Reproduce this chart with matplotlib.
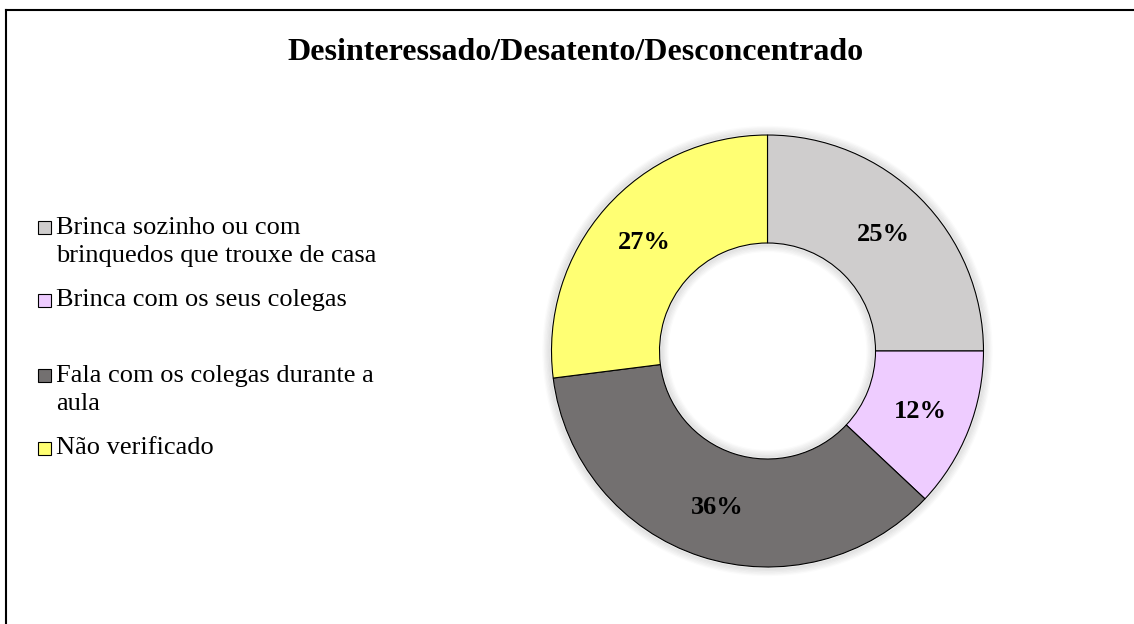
import matplotlib.pyplot as plt
from matplotlib.patches import Rectangle, Circle
from matplotlib.lines import Line2D

# Data
categories = ['Brinca sozinho ou com\nbrinquedos que trouxe de casa',
              'Brinca com os seus colegas',
              'Fala com os colegas durante a\naula',
              'Não verificado']
values = [25, 12, 36, 27]
colors = ['#CFCDCD', '#EECCFF', '#737070', '#FFFF73']
title = 'Desinteressado/Desatento/Desconcentrado'

plt.rcParams['font.family'] = ['Liberation Serif', 'DejaVu Serif']

W, H = 1134, 624
fig = plt.figure(figsize=(W / 100, H / 100), dpi=100)

# frame (only top/left edges visible in the reference)
fig.add_artist(Line2D([6 / W, 6 / W], [0, 1 - 10 / H], color='black', lw=1.5))
fig.add_artist(Line2D([6 / W, 1], [1 - 10 / H, 1 - 10 / H], color='black', lw=1.5))

fig.text(575 / W, 1 - 52 / H, title, ha='center', va='center',
         fontsize=23, fontweight='bold')

# donut
cx, cy, r = 767.5, H - 351, 216
m = 1.1
ax = fig.add_axes([(cx - r * m) / W, (cy - r * m) / H, 2 * r * m / W, 2 * r * m / H])

# soft shadow around the ring
for k in range(6):
    ax.add_patch(Circle((0, 0), 1.0 + 0.006 * (k + 1), facecolor='none',
                        edgecolor='black', lw=2, alpha=0.06 - 0.009 * k))
    ax.add_patch(Circle((0, 0), 0.5 - 0.006 * (k + 1), facecolor='none',
                        edgecolor='black', lw=2, alpha=0.06 - 0.009 * k))

wedges, texts, autotexts = ax.pie(values, colors=colors, startangle=90, counterclock=False,
                                  radius=1, autopct='%1.0f%%', pctdistance=0.76,
                                  wedgeprops=dict(width=0.5, edgecolor='black', linewidth=0.8),
                                  textprops=dict(fontsize=19, fontweight='bold', color='black'))
ax.set_xlim(-m, m)
ax.set_ylim(-m, m)
ax.set_aspect('equal')
ax.axis('off')

# legend, placed like the Excel original
legend_y = [242, 300, 390, 448]
for lab, col, y in zip(categories, colors, legend_y):
    nlines = lab.count('\n') + 1
    ytop = y - (nlines - 1) * 15
    fig.add_artist(Rectangle((38 / W, 1 - (ytop + 7) / H), 13 / W, 13 / H,
                             facecolor=col, edgecolor='black', lw=0.8,
                             transform=fig.transFigure))
    fig.text(56 / W, 1 - y / H, lab, ha='left', va='center', fontsize=19,
             linespacing=1.38)

fig.savefig('out.png', dpi=100)
